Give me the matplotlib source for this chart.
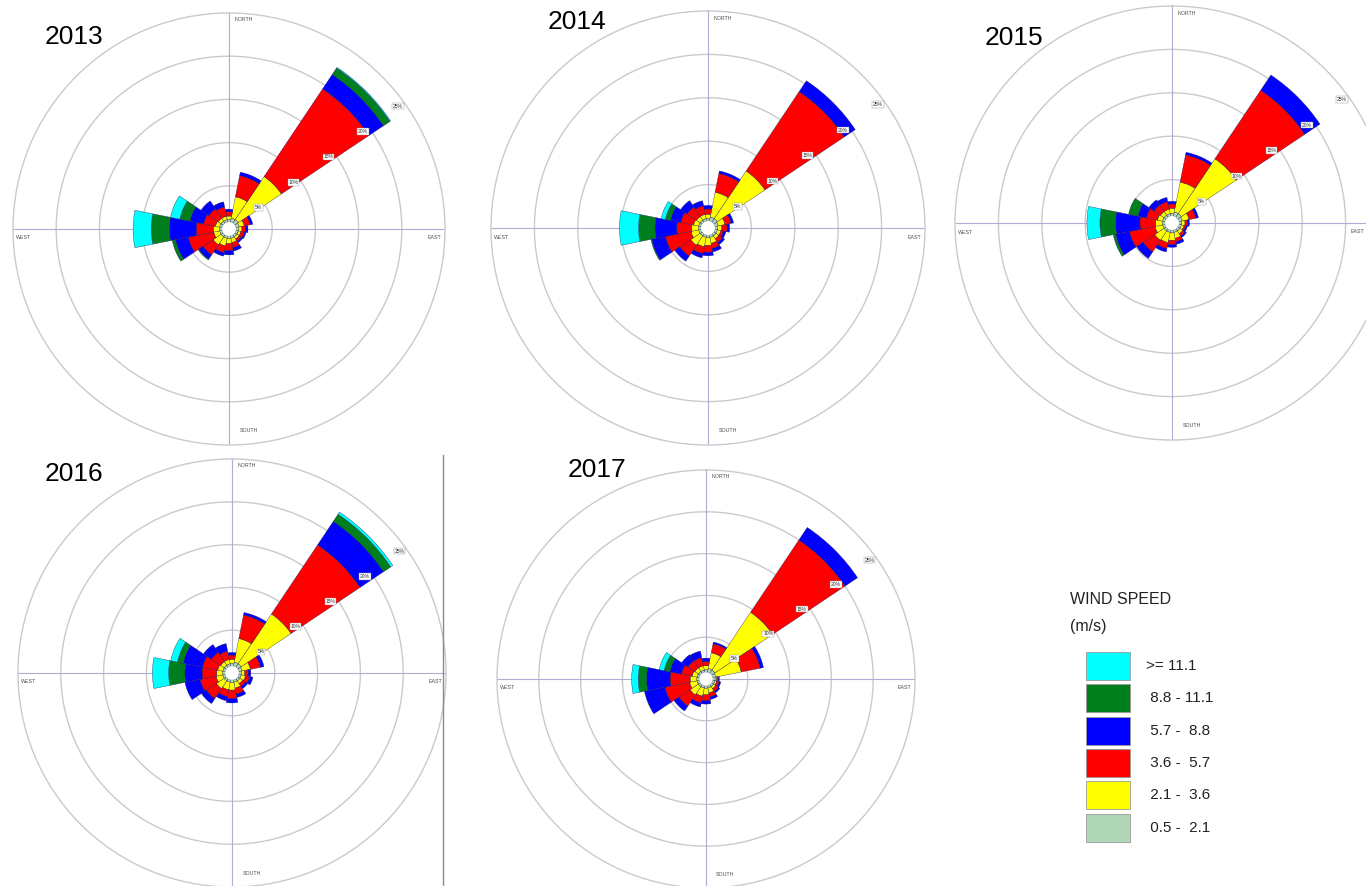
import numpy as np
import matplotlib
matplotlib.use("Agg")
import matplotlib.pyplot as plt

plt.rcParams['font.family'] = ['Liberation Sans', 'DejaVu Sans']

# ---------------- data ----------------
directions = ['N', 'NNE', 'NE', 'ENE', 'E', 'ESE', 'SE', 'SSE',
              'S', 'SSW', 'SW', 'WSW', 'W', 'WNW', 'NW', 'NNW']
dir_angles = [0, 22.5, 45, 67.5, 90, 112.5, 135, 157.5,
              180, 202.5, 225, 247.5, 270, 292.5, 315, 337.5]

speed_labels = ['0.5 - 2.1', '2.1 - 3.6', '3.6 - 5.7', '5.7 - 8.8', '8.8 - 11.1', '>= 11.1']
legend_texts = ['>= 11.1', ' 8.8 - 11.1', ' 5.7 -  8.8', ' 3.6 -  5.7', ' 2.1 -  3.6', ' 0.5 -  2.1']
speed_colors = ['#B0D8B8', '#FFFF00', '#FF0000', '#0000FF', '#007F1F', '#00FFFF']

calm_pct = 0.8
ring_values = [5, 10, 15, 20, 25]
ring_labels = ['5%', '10%', '15%', '20%', '25%']

# frequency (%) per speed class (rows, slow -> fast) and direction (columns)
freq_2013 = [
    [0.3, 0.5, 0.5, 0.4, 0.3, 0.3, 0.3, 0.3, 0.3, 0.3, 0.3, 0.3, 0.3, 0.3, 0.3, 0.3],
    [0.4, 2.5, 6.0, 0.6, 0.4, 0.3, 0.3, 0.5, 0.6, 0.9, 1.1, 0.7, 0.7, 0.5, 0.4, 0.4],
    [0.5, 2.5, 12.2, 0.7, 0.4, 0.4, 0.3, 0.6, 0.8, 0.8, 1.4, 3.0, 2.0, 1.4, 1.3, 1.1],
    [0.3, 0.4, 2.0, 0.3, 0.3, 0.2, 0.2, 0.4, 0.5, 0.4, 0.6, 1.5, 3.1, 1.6, 1.1, 0.6],
    [0.0, 0.0, 0.9, 0.0, 0.0, 0.0, 0.0, 0.0, 0.0, 0.0, 0.1, 0.4, 2.1, 1.2, 0.0, 0.0],
    [0.0, 0.0, 0.1, 0.0, 0.0, 0.0, 0.0, 0.0, 0.0, 0.0, 0.0, 0.0, 2.1, 1.1, 0.0, 0.0],
]
freq_2014 = [
    [0.3, 0.5, 0.5, 0.4, 0.3, 0.3, 0.3, 0.3, 0.3, 0.3, 0.3, 0.3, 0.3, 0.3, 0.3, 0.3],
    [0.5, 2.9, 6.6, 0.8, 0.5, 0.4, 0.4, 0.7, 0.9, 1.1, 1.3, 0.9, 0.8, 0.6, 0.5, 0.5],
    [0.6, 2.2, 11.0, 0.7, 0.6, 0.3, 0.5, 0.6, 0.8, 0.8, 1.5, 3.0, 1.7, 1.5, 1.3, 1.0],
    [0.4, 0.3, 1.5, 0.3, 0.3, 0.3, 0.3, 0.4, 0.4, 0.5, 0.7, 1.6, 2.5, 1.2, 0.9, 0.6],
    [0.0, 0.0, 0.0, 0.0, 0.0, 0.0, 0.0, 0.0, 0.0, 0.0, 0.0, 0.1, 1.9, 0.6, 0.0, 0.0],
    [0.0, 0.0, 0.0, 0.0, 0.0, 0.0, 0.0, 0.0, 0.0, 0.0, 0.0, 0.0, 2.2, 0.5, 0.0, 0.0],
]
freq_2015 = [
    [0.3, 0.5, 0.5, 0.4, 0.3, 0.3, 0.3, 0.3, 0.3, 0.3, 0.3, 0.3, 0.3, 0.3, 0.3, 0.3],
    [0.6, 3.5, 7.6, 0.8, 0.4, 0.3, 0.4, 0.7, 0.9, 1.2, 1.3, 0.9, 0.8, 0.6, 0.5, 0.5],
    [0.5, 3.2, 9.5, 0.8, 0.3, 0.2, 0.3, 0.4, 0.5, 0.7, 1.6, 3.0, 1.8, 1.3, 0.9, 0.9],
    [0.3, 0.3, 2.1, 0.3, 0.2, 0.2, 0.2, 0.3, 0.3, 0.4, 0.9, 1.6, 2.8, 1.0, 0.7, 0.5],
    [0.0, 0.0, 0.0, 0.0, 0.0, 0.0, 0.0, 0.0, 0.0, 0.0, 0.0, 0.3, 1.8, 1.1, 0.0, 0.0],
    [0.0, 0.0, 0.0, 0.0, 0.0, 0.0, 0.0, 0.0, 0.0, 0.0, 0.0, 0.0, 1.5, 0.0, 0.0, 0.0],
]
freq_2016 = [
    [0.3, 0.5, 0.5, 0.4, 0.3, 0.3, 0.3, 0.3, 0.3, 0.3, 0.3, 0.3, 0.3, 0.3, 0.3, 0.3],
    [0.5, 2.8, 7.0, 1.0, 0.4, 0.5, 0.4, 0.7, 0.9, 0.9, 1.1, 0.8, 0.7, 0.6, 0.5, 0.5],
    [0.5, 2.8, 9.7, 1.2, 0.4, 0.5, 0.4, 0.7, 1.0, 0.8, 1.4, 1.9, 1.7, 1.8, 1.3, 1.0],
    [0.3, 0.3, 3.3, 0.4, 0.3, 0.4, 0.3, 0.4, 0.5, 0.5, 0.7, 1.8, 2.0, 2.3, 1.1, 0.9],
    [0.0, 0.0, 1.0, 0.0, 0.0, 0.0, 0.0, 0.0, 0.0, 0.0, 0.0, 0.0, 1.9, 0.7, 0.0, 0.0],
    [0.0, 0.0, 0.3, 0.0, 0.0, 0.0, 0.0, 0.0, 0.0, 0.0, 0.0, 0.0, 1.9, 0.8, 0.0, 0.0],
]
freq_2017 = [
    [0.3, 0.5, 0.5, 0.4, 0.3, 0.3, 0.3, 0.3, 0.3, 0.3, 0.3, 0.3, 0.3, 0.3, 0.3, 0.3],
    [0.5, 1.9, 8.3, 3.1, 0.2, 0.2, 0.3, 0.6, 0.8, 1.0, 1.2, 0.9, 0.8, 0.6, 0.5, 0.5],
    [0.5, 1.1, 10.4, 2.3, 0.2, 0.3, 0.4, 0.5, 0.7, 0.8, 1.6, 3.0, 2.4, 1.3, 1.0, 1.0],
    [0.4, 0.2, 1.8, 0.4, 0.1, 0.2, 0.2, 0.3, 0.4, 0.5, 0.7, 2.5, 2.8, 1.4, 0.9, 0.8],
    [0.0, 0.0, 0.0, 0.0, 0.0, 0.0, 0.0, 0.0, 0.0, 0.0, 0.0, 0.0, 1.0, 0.7, 0.0, 0.0],
    [0.0, 0.0, 0.0, 0.0, 0.0, 0.0, 0.0, 0.0, 0.0, 0.0, 0.0, 0.0, 0.8, 0.6, 0.0, 0.0],
]
years = ['2013', '2014', '2015', '2016', '2017']

# ---------------- layout (pixels) ----------------
W, H = 1366, 886
fig = plt.figure(figsize=(W / 100, H / 100), dpi=100)
fig.patch.set_facecolor('white')

panels = {
    '2013': dict(cx=229, cy=229, R=216, tx=45, ty=37, east_r=23.8, data=freq_2013),
    '2014': dict(cx=708, cy=228, R=217, tx=548, ty=22, east_r=23.8, data=freq_2014),
    '2015': dict(cx=1172, cy=223, R=217, tx=985, ty=38, east_r=21.4, data=freq_2015),
    '2016': dict(cx=232, cy=673, R=214, tx=45, ty=474, east_r=23.8, data=freq_2016),
    '2017': dict(cx=706, cy=679, R=209, tx=568, ty=470, east_r=23.8, data=freq_2017),
}

ring_color = '#cacace'
axis_color = '#aeaed4'
edge_color = '#181850'
rmax = 25


def draw_rose(p, year):
    cx, cy, R = p['cx'], p['cy'], p['R']
    ax = fig.add_axes([(cx - R) / W, 1 - (cy + R) / H, 2 * R / W, 2 * R / H],
                      projection='polar')
    ax.set_theta_zero_location('N')
    ax.set_theta_direction(-1)
    ax.set_ylim(0, rmax)
    ax.set_xticks([])
    ax.set_yticks([])
    ax.grid(False)
    ax.patch.set_alpha(0)
    ax.spines['polar'].set_color(ring_color)
    ax.spines['polar'].set_linewidth(1.0)

    th = np.linspace(0, 2 * np.pi, 721)
    for r in ring_values[:-1]:
        ax.plot(th, np.full_like(th, r), color=ring_color, lw=1.0, zorder=1)
    for a in (0, 90, 180, 270):
        ax.plot([np.radians(a)] * 2, [0, rmax], color=axis_color, lw=0.8, zorder=1)

    theta = np.radians(dir_angles)
    width = np.radians(22.5)
    bottom = np.full(len(dir_angles), calm_pct)
    data = np.array(p['data'], dtype=float)
    for k in range(len(speed_labels)):
        h = data[k]
        m = h > 0
        ax.bar(theta[m], h[m], width=width, bottom=bottom[m], color=speed_colors[k],
               edgecolor=edge_color, linewidth=0.25, zorder=3)
        bottom = bottom + h
    ax.bar(0, calm_pct, width=2 * np.pi, bottom=0, color='white', edgecolor='none', zorder=4)

    lab_ang = np.radians(54)
    for r, t in zip(ring_values, ring_labels):
        ax.text(lab_ang, r - 0.8, t, fontsize=3.6, color='#303030', ha='center',
                va='center', zorder=6,
                bbox=dict(boxstyle='square,pad=0.15', fc='white', ec='#909090', lw=0.3))

    card_kw = dict(fontsize=3.8, color='#505050', zorder=6)
    ax.text(np.radians(1.5), 24.2, 'NORTH', ha='left', va='center', **card_kw)
    ax.text(np.radians(177.0), 23.4, 'SOUTH', ha='left', va='center', **card_kw)
    ax.text(np.radians(92.5), p['east_r'], 'EAST', ha='center', va='center', **card_kw)
    ax.text(np.radians(267.5), 23.8, 'WEST', ha='center', va='center', **card_kw)

    fig.text(p['tx'] / W, 1 - p['ty'] / H, year, fontsize=19, ha='left',
             va='center', color='black')


for y in years:
    draw_rose(panels[y], y)

# separator line
fig.add_artist(plt.Line2D([443 / W, 443 / W], [0, 1 - 455 / H],
                          transform=fig.transFigure, color='#8a8a8a', lw=1.0))

# ---------------- legend ----------------
fig.text(1070 / W, 1 - 599 / H, 'WIND SPEED', fontsize=11.5, ha='left', va='center',
         color='#222222')
fig.text(1070 / W, 1 - 626 / H, '(m/s)', fontsize=11.5, ha='left', va='center',
         color='#222222')
leg_colors = speed_colors[::-1]
y0, dy = 666, 32.3
for i, (c, t) in enumerate(zip(leg_colors, legend_texts)):
    yc = y0 + i * dy
    fig.add_artist(plt.Rectangle((1086 / W, 1 - (yc + 14) / H), 44 / W, 28 / H,
                                 transform=fig.transFigure, fc=c, ec='#9a9a9a', lw=0.6))
    fig.text(1146 / W, 1 - yc / H, t, fontsize=11, ha='left', va='center',
             color='#222222')

fig.savefig('out.png', dpi=100)
